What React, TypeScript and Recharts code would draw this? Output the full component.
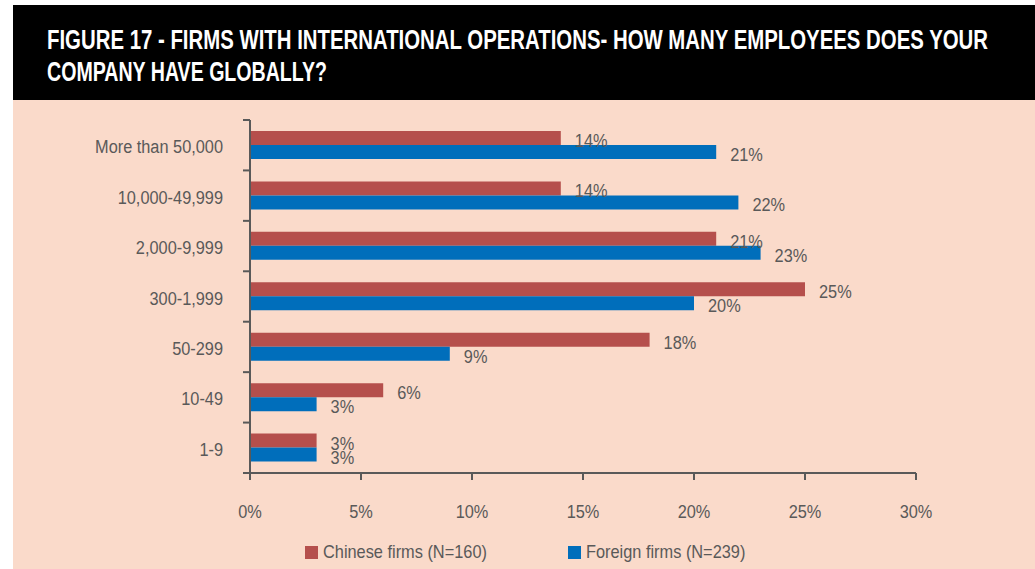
import { BarChart, Bar, XAxis, YAxis, Legend, LabelList } from 'recharts'

const categories = ['More than 50,000', '10,000-49,999', '2,000-9,999', '300-1,999', '50-299', '10-49', '1-9']
const chineseFirms = [14, 14, 21, 25, 18, 6, 3]
const foreignFirms = [21, 22, 23, 20, 9, 3, 3]
const xTicks = [0, 5, 10, 15, 20, 25, 30]
const seriesNames = ['Chinese firms (N=160)', 'Foreign firms (N=239)']
const titleLines = [
  'FIGURE 17 - FIRMS WITH INTERNATIONAL OPERATIONS- HOW MANY EMPLOYEES DOES YOUR',
  'COMPANY HAVE GLOBALLY?',
]

const RED = '#B54F4C'
const BLUE = '#006EBB'
const GREY = '#595959'
const PEACH = '#FADACA'
const FONT = '"Liberation Sans", Arial, sans-serif'
// no condensed face installed, so squeeze regular text horizontally
const SQUEEZE = 0.86

const data = categories.map((name, i) => ({
  name,
  chinese: chineseFirms[i],
  foreign: foreignFirms[i],
}))

const CHART_H = 469
const MARGIN = { top: 20, right: 119, bottom: 16, left: 0 }
const PLOT_H = 353
const HALF_BAND = PLOT_H / categories.length / 2

function NarrowText({ x, y, anchor = 'start', dy = 0, children }: any) {
  return (
    <text
      transform={`translate(${x},${y}) scale(${SQUEEZE},1)`}
      dy={dy}
      textAnchor={anchor}
      fill={GREY}
      fontSize={19}
      fontFamily={FONT}
    >
      {children}
    </text>
  )
}

function CategoryTick(props: any) {
  const { x, y, payload, index } = props
  return (
    <g>
      <NarrowText x={x - 27} y={y} dy={8} anchor="end">{payload.value}</NarrowText>
      <line x1={x - 7} x2={x} y1={y + HALF_BAND} y2={y + HALF_BAND} stroke={GREY} strokeWidth={2} />
      {index === 0 && (
        <line x1={x - 7} x2={x} y1={y - HALF_BAND} y2={y - HALF_BAND} stroke={GREY} strokeWidth={2} />
      )}
    </g>
  )
}

function PercentTick(props: any) {
  const { x, y, payload } = props
  return <NarrowText x={x} y={y} dy={16} anchor="middle">{`${payload.value}%`}</NarrowText>
}

function ValueLabel(props: any) {
  const { x, y, width, height, value } = props
  return <NarrowText x={x + width + 14} y={y + height / 2} dy={9}>{`${value}%`}</NarrowText>
}

function LegendContent() {
  const colors = [RED, BLUE]
  return (
    <div style={{ display: 'flex', fontFamily: FONT, fontSize: 19, color: GREY, height: 30, alignItems: 'center' }}>
      {seriesNames.map((s, i) => (
        <div key={s} style={{ width: 263, display: 'flex', alignItems: 'center' }}>
          <span style={{ display: 'inline-block', width: 13, height: 13, background: colors[i], marginRight: 5 }} />
          <span style={{ display: 'inline-block', transform: `scaleX(${SQUEEZE})`, transformOrigin: 'left center', whiteSpace: 'nowrap' }}>
            {s}
          </span>
        </div>
      ))}
    </div>
  )
}

export default function App() {
  return (
    <div style={{ position: 'absolute', left: 0, top: 0, width: 1035, height: 569, background: '#fff' }}>
      <svg
        width={1022}
        height={95}
        style={{ position: 'absolute', left: 13, top: 5, display: 'block' }}
      >
        <rect x={0} y={0} width={1022} height={95} fill="#000" />
        <text x={34} y={44} fill="#fff" fontFamily={FONT} fontWeight="bold" fontSize={27}
          textLength={941} lengthAdjust="spacingAndGlyphs">
          {titleLines[0]}
        </text>
        <text x={34} y={76} fill="#fff" fontFamily={FONT} fontWeight="bold" fontSize={27}
          textLength={280} lengthAdjust="spacingAndGlyphs">
          {titleLines[1]}
        </text>
      </svg>
      <div style={{ position: 'absolute', left: 13, top: 100, width: 1022, height: CHART_H, background: PEACH }}>
        <BarChart
          width={1022}
          height={CHART_H}
          data={data}
          layout="vertical"
          margin={MARGIN}
          barSize={14}
          barGap={0}
        >
          <XAxis
            type="number"
            domain={[0, 30]}
            ticks={xTicks}
            axisLine={{ stroke: GREY, strokeWidth: 2 }}
            tickLine={{ stroke: GREY, strokeWidth: 2 }}
            tickSize={7}
            tickMargin={22}
            height={50}
            tick={<PercentTick />}
          />
          <YAxis
            type="category"
            dataKey="name"
            width={237}
            axisLine={{ stroke: GREY, strokeWidth: 2 }}
            tickLine={false}
            tickSize={0}
            tickMargin={0}
            tick={<CategoryTick />}
            interval={0}
          />
          <Legend
            verticalAlign="bottom"
            content={<LegendContent />}
            wrapperStyle={{ left: 292, bottom: 2, width: 560 }}
          />
          <Bar dataKey="chinese" name={seriesNames[0]} fill={RED} isAnimationActive={false}>
            <LabelList dataKey="chinese" content={<ValueLabel />} />
          </Bar>
          <Bar dataKey="foreign" name={seriesNames[1]} fill={BLUE} isAnimationActive={false}>
            <LabelList dataKey="foreign" content={<ValueLabel />} />
          </Bar>
        </BarChart>
      </div>
    </div>
  )
}
